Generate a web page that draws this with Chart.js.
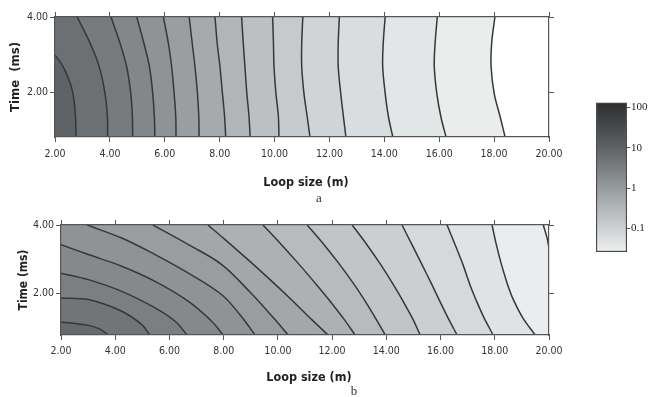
<!DOCTYPE html>
<html>
<head>
<meta charset="utf-8">
<script src="https://cdn.jsdelivr.net/npm/chart.js@4.4.1/dist/chart.umd.min.js"></script>
<style>
  html, body { margin: 0; padding: 0; background: #fff; }
  body { width: 652px; height: 397px; position: relative; overflow: hidden; }
  .box { position: absolute; }
  .tag { position: absolute; font: 13px "Liberation Serif", "DejaVu Serif", serif; color: #333; transform: translate(-50%, -50%); }
</style>
</head>
<body>
<div class="box" style="left:0;top:0;width:580px;height:205px"><canvas id="chartA"></canvas></div>
<div class="box" style="left:6px;top:208px;width:574px;height:189px"><canvas id="chartB"></canvas></div>
<div class="box" style="left:590px;top:95px;width:62px;height:165px"><canvas id="scaleBar"></canvas></div>
<div class="tag" style="left:319px;top:198px">a</div>
<div class="tag" style="left:354px;top:391px">b</div>
<script>
// axis ranges shared by both panels
const X_MIN = 2, X_MAX = 20;
const Y_MIN = 0.8, Y_MAX = 4;
const xTicks = [2, 4, 6, 8, 10, 12, 14, 16, 18, 20];
const yTicks = [2, 4];

// panel a: contour lines (loop size at each time)
const aY = [4.00, 3.30, 2.68, 1.97, 1.34, 0.80];
const a01X = [2.00, 2.30, 2.61, 2.73, 2.77];
const a01Y = [2.99, 2.67, 2.10, 1.52, 0.80];
const a02X = [2.81, 3.28, 3.61, 3.82, 3.91, 3.92];
const a03X = [4.04, 4.37, 4.61, 4.76, 4.82, 4.83];
const a04X = [4.98, 5.24, 5.44, 5.56, 5.62, 5.64];
const a05X = [5.95, 6.13, 6.25, 6.34, 6.40, 6.41];
const a06X = [6.89, 7.00, 7.10, 7.19, 7.24, 7.25];
const a07X = [7.83, 7.91, 8.01, 8.10, 8.18, 8.22];
const a08X = [8.80, 8.86, 8.92, 8.99, 9.07, 9.11];
const a09X = [9.93, 9.96, 9.98, 10.05, 10.14, 10.16];
const a10X = [11.03, 10.99, 10.99, 11.07, 11.19, 11.29];
const a11X = [12.36, 12.32, 12.32, 12.41, 12.51, 12.60];
const a12X = [14.03, 13.96, 13.94, 14.03, 14.15, 14.31];
const a13X = [15.93, 15.85, 15.82, 15.91, 16.06, 16.25];
const a14X = [18.03, 17.91, 17.89, 18.00, 18.22, 18.40];
// band shades, left (darkest) to right
const shadesA = ['#5f6365', '#6c7072', '#777b7d', '#83878a', '#8f9395', '#9a9ea0', '#a6aaac', '#b1b5b7',
                 '#bcc0c2', '#c6cacc', '#d0d4d6', '#dadddf', '#e3e6e7', '#ebeded', '#ffffff'];

// panel b: contour lines
const b01X = [2.00, 3.00, 3.44, 3.75];
const b01Y = [1.18, 1.08, 0.97, 0.80];
const b02X = [2.00, 3.01, 4.24, 4.98, 5.28];
const b02Y = [1.88, 1.83, 1.49, 1.10, 0.80];
const b03X = [2.00, 3.01, 4.24, 5.47, 6.21, 6.65];
const b03Y = [2.60, 2.41, 2.07, 1.59, 1.20, 0.80];
const b04X = [2.00, 3.01, 4.24, 5.47, 6.70, 7.56, 7.98];
const b04Y = [3.43, 3.14, 2.80, 2.36, 1.78, 1.20, 0.80];
const b05X = [2.96, 4.24, 5.47, 6.70, 7.93, 8.61, 9.16];
const b05Y = [4.00, 3.62, 3.14, 2.60, 1.97, 1.38, 0.80];
const b06X = [5.39, 6.70, 7.93, 8.97, 9.78, 10.38];
const b06Y = [4.00, 3.43, 2.85, 2.05, 1.35, 0.80];
const b07X = [7.42, 7.99, 9.00, 9.85, 10.51, 11.26, 11.85];
const b07Y = [4.00, 3.62, 2.92, 2.31, 1.82, 1.24, 0.80];
const bY = [4.00, 3.42, 2.84, 2.25, 1.82, 1.29, 0.80];
const b08X = [9.45, 10.14, 10.80, 11.44, 11.89, 12.41, 12.85];
const b09X = [11.08, 11.71, 12.29, 12.83, 13.19, 13.60, 13.96];
const b10X = [12.74, 13.29, 13.80, 14.27, 14.59, 14.96, 15.25];
const b11X = [14.58, 14.95, 15.32, 15.69, 15.95, 16.28, 16.61];
const b12X = [16.24, 16.54, 16.83, 17.09, 17.31, 17.61, 17.94];
const b13X = [17.90, 18.06, 18.25, 18.48, 18.69, 19.04, 19.49];
const b14X = [19.79, 19.93, 20.00];
const b14Y = [4.00, 3.62, 3.33];
// band shades, bottom-left corner (darkest) outwards
const shadesB = ['#676b6d', '#717577', '#7b7f81', '#85898b', '#8f9395', '#999d9f', '#a3a7a9', '#adb1b3',
                 '#b7bbbd', '#c2c5c7', '#cccfd1', '#d6d9da', '#e0e3e4', '#eaeced', '#f1f2f2'];

// colour scale
const barTicks = [0.1, 1, 10, 100];
const BAR_MIN = 0.026, BAR_MAX = 133;

const LINE = '#35383a';
const FONT = '"DejaVu Sans Condensed", "DejaVu Sans", sans-serif';
const TENSION = 0.35;

const pair = (xs, ys) => xs.map((x, i) => [x, ys[i]]);

const contoursA = [pair(a01X, a01Y), pair(a02X, aY), pair(a03X, aY), pair(a04X, aY), pair(a05X, aY),
  pair(a06X, aY), pair(a07X, aY), pair(a08X, aY), pair(a09X, aY), pair(a10X, aY), pair(a11X, aY),
  pair(a12X, aY), pair(a13X, aY), pair(a14X, aY)];
const contoursB = [pair(b01X, b01Y), pair(b02X, b02Y), pair(b03X, b03Y), pair(b04X, b04Y),
  pair(b05X, b05Y), pair(b06X, b06Y), pair(b07X, b07Y), pair(b08X, bY), pair(b09X, bY), pair(b10X, bY),
  pair(b11X, bY), pair(b12X, bY), pair(b13X, bY), pair(b14X, b14Y)];

// position of a border point along the frame, counter-clockwise from bottom-left
const CORNERS = [[X_MIN, Y_MIN], [X_MAX, Y_MIN], [X_MAX, Y_MAX], [X_MIN, Y_MAX]];
function perim([x, y]) {
  const eps = 1e-6;
  if (Math.abs(y - Y_MIN) < eps) return (x - X_MIN) / (X_MAX - X_MIN);
  if (Math.abs(x - X_MAX) < eps) return 1 + (y - Y_MIN) / (Y_MAX - Y_MIN);
  if (Math.abs(y - Y_MAX) < eps) return 2 + (X_MAX - x) / (X_MAX - X_MIN);
  return 3 + (Y_MAX - y) / (Y_MAX - Y_MIN);
}

// close a contour into a region by walking the frame from its end back to its start
function closeRegion(line, ccw) {
  const t0 = perim(line[line.length - 1]), t1 = perim(line[0]);
  // repeating the end point keeps the curve's end tangent the same as the plain line
  const pts = line.concat([line[line.length - 1]]);
  if (ccw) {
    const span = (t1 - t0 + 4) % 4;
    for (let c = Math.ceil(t0); c - t0 < span; c++) pts.push(CORNERS[c % 4]);
  } else {
    const span = (t0 - t1 + 4) % 4;
    for (let c = Math.floor(t0); t0 - c < span; c--) pts.push(CORNERS[(c + 4) % 4]);
  }
  return pts;
}

const toXY = pts => pts.map(([x, y]) => ({ x, y }));

// filled regions first (bigger ones underneath), contour lines on top
function contourDatasets(lines, ccw, colorFor, orderFor) {
  const regions = lines.map((line, i) => ({
    data: toXY(closeRegion(line, ccw)),
    fill: 'shape',
    backgroundColor: colorFor(i),
    borderWidth: 0,
    tension: TENSION,
    pointRadius: 0,
    order: orderFor(i)
  }));
  const strokes = lines.map(line => ({
    data: toXY(line),
    fill: false,
    borderColor: LINE,
    borderWidth: 1.5,
    tension: TENSION,
    pointRadius: 0,
    order: 0
  }));
  return regions.concat(strokes);
}

// paints the part of the plot not covered by any region
const areaFill = {
  id: 'areaFill',
  beforeDatasetsDraw(chart, args, opts) {
    const { ctx, chartArea: a } = chart;
    ctx.save();
    ctx.fillStyle = opts.color;
    ctx.fillRect(a.left, a.top, a.right - a.left, a.bottom - a.top);
    ctx.restore();
  }
};

const fixTicks = list => s => { s.ticks = list.map(value => ({ value })); };

function panelOptions(p) {
  const edge = { display: true, color: '#555', width: 1.2, z: 1 };
  const marks = { drawOnChartArea: false, tickLength: 5, color: '#555', lineWidth: 1 };
  const tickFont = { family: FONT, size: 10.5 };
  return {
    responsive: true,
    maintainAspectRatio: false,
    animation: false,
    events: [],
    layout: { padding: 0 },
    plugins: { legend: { display: false }, tooltip: { enabled: false }, areaFill: { color: p.base } },
    scales: {
      x: {
        type: 'linear', position: 'bottom', min: X_MIN, max: X_MAX,
        afterBuildTicks: fixTicks(xTicks),
        ticks: { color: '#333', font: tickFont, padding: p.tickPad, maxRotation: 0, autoSkip: false,
                 callback: v => v.toFixed(2) },
        grid: marks, border: edge,
        title: { display: true, text: '  Loop size (m)', color: '#222',
                 font: { family: FONT, size: 12.5, weight: 'bold' }, padding: { top: 0, bottom: p.xTitlePad } },
        afterFit: s => { s.height = p.bottomH; }
      },
      xTop: {
        axis: 'x', type: 'linear', position: 'top', min: X_MIN, max: X_MAX,
        afterBuildTicks: fixTicks(xTicks),
        ticks: { display: false }, grid: marks, border: edge,
        afterFit: s => { s.height = 17; }
      },
      y: {
        type: 'linear', position: 'left', min: Y_MIN, max: Y_MAX,
        afterBuildTicks: fixTicks(yTicks),
        ticks: { color: '#333', font: tickFont, padding: 2, callback: v => v.toFixed(2) },
        grid: marks, border: edge,
        title: { display: true, text: p.yTitle, color: '#222',
                 font: { family: FONT, size: p.yTitleSize, weight: 'bold' }, padding: { top: p.yTitlePad, bottom: 0 } },
        afterFit: s => { s.width = 55; }
      },
      yRight: {
        axis: 'y', type: 'linear', position: 'right', min: Y_MIN, max: Y_MAX,
        afterBuildTicks: fixTicks(yTicks),
        ticks: { display: false }, grid: marks, border: edge,
        afterFit: s => { s.width = 31; }
      }
    }
  };
}

new Chart(document.getElementById('chartA'), {
  type: 'line',
  data: { datasets: contourDatasets(contoursA, true, i => shadesA[i + 1], i => contoursA.length - i) },
  options: panelOptions({ base: shadesA[0], tickPad: 6, xTitlePad: 15, bottomH: 68,
                          yTitle: 'Time  (ms)', yTitleSize: 13, yTitlePad: 8 }),
  plugins: [areaFill]
});

new Chart(document.getElementById('chartB'), {
  type: 'line',
  data: { datasets: contourDatasets(contoursB, false, i => shadesB[i], i => i + 1) },
  options: panelOptions({ base: shadesB[shadesB.length - 1], tickPad: 5, xTitlePad: 12, bottomH: 62,
                          yTitle: 'Time (ms)', yTitleSize: 12, yTitlePad: 11 }),
  plugins: [areaFill]
});

// colour scale bar
new Chart(document.getElementById('scaleBar'), {
  type: 'bar',
  data: {
    labels: [''],
    datasets: [{
      data: [[BAR_MIN, BAR_MAX]],
      backgroundColor: c => {
        const a = c.chart.chartArea;
        if (!a) return '#999';
        const g = c.chart.ctx.createLinearGradient(0, a.top, 0, a.bottom);
        g.addColorStop(0, '#2c2e30');
        g.addColorStop(0.3, '#5e6265');
        g.addColorStop(0.6, '#9ca1a4');
        g.addColorStop(1, '#eef0f1');
        return g;
      },
      borderColor: '#4a4a4a',
      borderWidth: 1.5,
      borderSkipped: false,
      barPercentage: 1,
      categoryPercentage: 1
    }]
  },
  options: {
    responsive: true,
    maintainAspectRatio: false,
    animation: false,
    events: [],
    layout: { padding: { left: 6, top: 7, bottom: 8, right: 0 } },
    plugins: { legend: { display: false }, tooltip: { enabled: false } },
    scales: {
      x: { display: false },
      y: {
        type: 'logarithmic', position: 'right', min: BAR_MIN, max: BAR_MAX,
        afterBuildTicks: fixTicks(barTicks),
        ticks: { color: '#222', font: { family: '"Liberation Serif", serif', size: 11 }, padding: 1,
                 callback: v => String(v) },
        grid: { drawOnChartArea: false, tickLength: 3, color: '#555' },
        border: { display: false },
        afterFit: s => { s.width = 25; }
      }
    }
  }
});
</script>
</body>
</html>
